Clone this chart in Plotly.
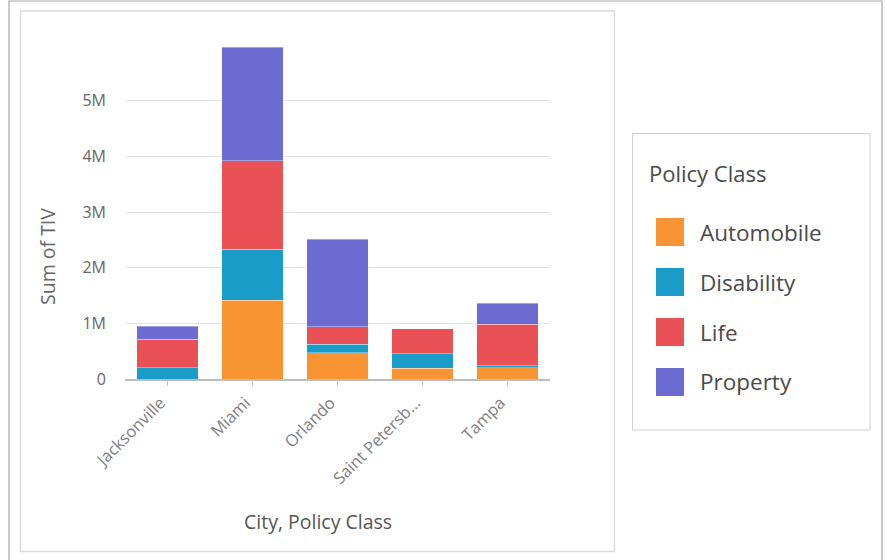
import plotly.graph_objects as go

cities = ["Jacksonville", "Miami", "Orlando", "Saint Petersb...", "Tampa"]
classes = ["Automobile", "Disability", "Life", "Property"]
automobile = [0.0, 1415000, 475000, 190000, 205000]
disability = [205000, 915000, 150000, 260000, 35000]
life = [510000, 1590000, 318000, 455000, 740000]
property_ = [235000, 2040000, 1565000, 0, 378000]
colors = ["#f89433", "#1a9cc8", "#e95157", "#6b6bd1"]
ytick_vals = [0, 1e6, 2e6, 3e6, 4e6, 5e6]
ytick_text = ["0", "1M", "2M", "3M", "4M", "5M"]

W, H = 887, 560
L, R, T, B = 125, 550, 45, 379
FONT = "Open Sans"

def px(x):
    return (x - L) / (R - L)

def py(y):
    return (B - y) / (B - T)

fig = go.Figure()
for name, vals, col in zip(classes, [automobile, disability, life, property_], colors):
    fig.add_trace(go.Bar(x=cities, y=vals, name=name, marker_color=col,
                         marker_line=dict(width=0.6, color="rgba(255,255,255,0.6)"),
                         showlegend=False))

shapes = []
# outer frame
shapes.append(dict(type="rect", xref="paper", yref="paper", x0=px(9), x1=px(882), y0=py(575), y1=py(1),
                   line=dict(color="#a8a8a8", width=1.2), layer="below"))
# chart card
shapes.append(dict(type="rect", xref="paper", yref="paper", x0=px(20.5), x1=px(614.5), y0=py(551.5), y1=py(11),
                   line=dict(color="#dcdcdc", width=1.5), layer="below"))
# legend box
shapes.append(dict(type="rect", xref="paper", yref="paper", x0=px(632.5), x1=px(870), y0=py(430), y1=py(133.5),
                   line=dict(color="#d0d0d0", width=1), layer="below"))

annotations = []
sq_tops = [218, 268, 318, 368]
for name, col, top in zip(classes, colors, sq_tops):
    shapes.append(dict(type="rect", xref="paper", yref="paper", x0=px(656), x1=px(684), y0=py(top + 28), y1=py(top),
                       fillcolor=col, line=dict(color=col, width=0)))
    annotations.append(dict(text=name, xref="paper", yref="paper", x=px(698), y=py(top + 14),
                            xanchor="left", yanchor="middle", showarrow=False,
                            font=dict(family=FONT, size=22.5, color="#4a4a4a")))
annotations.append(dict(text="Policy Class", xref="paper", yref="paper", x=px(647), y=py(173),
                        xanchor="left", yanchor="middle", showarrow=False,
                        font=dict(family=FONT, size=22, color="#4a4a4a")))
annotations.append(dict(text="Sum of TIV", xref="paper", yref="paper", x=px(47), y=py(257),
                        xanchor="center", yanchor="middle", showarrow=False, textangle=-90,
                        font=dict(family=FONT, size=19.5, color="#666666")))
annotations.append(dict(text="City, Policy Class", xref="paper", yref="paper", x=px(318), y=py(521),
                        xanchor="center", yanchor="middle", showarrow=False,
                        font=dict(family=FONT, size=19.5, color="#555555")))

fig.update_layout(
    width=W, height=H, barmode="stack", bargap=0.28,
    margin=dict(l=L, r=W - R, t=T, b=H - B, pad=0),
    paper_bgcolor="white", plot_bgcolor="white",
    font=dict(family=FONT, color="#666666"),
    shapes=shapes, annotations=annotations,
    xaxis=dict(showgrid=False, tickangle=-45, ticks="outside", ticklen=5, tickcolor="#c8c8c8",
               showline=True, linecolor="#bdbdbd", linewidth=1.5,
               tickfont=dict(family=FONT, size=16.5, color="#808080"), ticklabelstandoff=1,
               ticklabelshift=-7),
    yaxis=dict(range=[0, 6.0e6], tickvals=ytick_vals, ticktext=ytick_text,
               showgrid=True, gridcolor="#e4e4e4", gridwidth=1.2, zeroline=False,
               showline=False, ticks="", ticklabelstandoff=18,
               tickfont=dict(family=FONT, size=16, color="#666666")),
)

fig.write_html("out.html", config={"displayModeBar": False},
               post_script="document.body.style.margin='0';document.body.style.padding='0';")
